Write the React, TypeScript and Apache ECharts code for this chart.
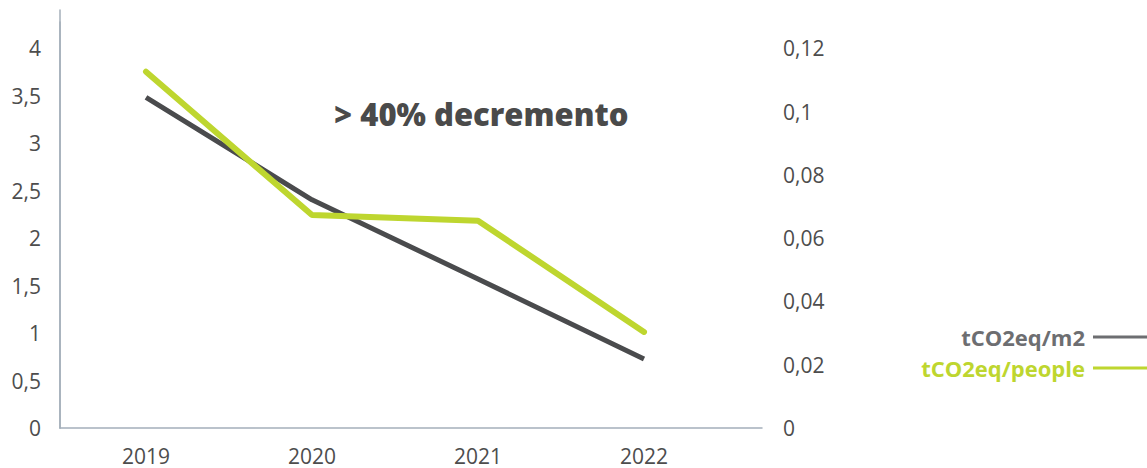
import React, { useEffect, useRef } from "react";
import * as echarts from "echarts";

const years = ["2019", "2020", "2021", "2022"];
const perPeople = [3.754, 2.244, 2.184, 1.012];
const perM2 = [0.1045, 0.0721, 0.0471, 0.0218];
const seriesNames = ["tCO2eq/m2", "tCO2eq/people"];
const annotation = "> 40% decremento";

const GRAY = "#4a4b4d";
const GREEN = "#bed62f";
const AXIS = "#a4afba";
const LABEL = "#4d4d4d";

const fmt = (v: number) => String(v).replace(".", ",");

export default function App() {
  const ref = useRef<HTMLDivElement>(null);
  useEffect(() => {
    if (!ref.current) return;
    const chart = echarts.init(ref.current, undefined, { renderer: "svg" });
    const labelBase = {
      color: LABEL,
      fontFamily: "Open Sans",
      fontSize: 21,
    };
    chart.setOption({
      animation: false,
      backgroundColor: "#ffffff",
      title: {
        text: annotation,
        left: 329,
        top: 93,
        textStyle: { fontFamily: "Open Sans", fontWeight: 800, fontSize: 31, color: "#4a4a4a" },
      },
      legend: {
        orient: "vertical",
        right: -6,
        top: 318,
        align: "right",
        itemWidth: 55,
        itemHeight: 3,
        itemGap: 3,
        data: [
          { name: seriesNames[0], icon: "rect", itemStyle: { color: "#6d6e71" }, textStyle: { color: "#6d6e71" } },
          { name: seriesNames[1], icon: "rect", itemStyle: { color: GREEN }, textStyle: { color: GREEN } },
        ],
        textStyle: {
          fontFamily: "Open Sans",
          fontWeight: "bold",
          fontSize: 22,
          lineHeight: 28,
          padding: [0, 3, 0, 0],
        },
      },
      grid: [
        { left: 63, right: 420, top: 22, bottom: 40 },
        { left: 60, right: 385, top: 10, bottom: 40 },
      ],
      xAxis: [
        {
          type: "category",
          gridIndex: 0,
          data: years,
          boundaryGap: true,
          axisLine: { show: false },
          axisTick: { show: false },
          axisLabel: { ...labelBase, margin: 17 },
        },
        {
          type: "value",
          gridIndex: 1,
          min: 0,
          max: 1,
          axisLine: { show: true, onZero: false, lineStyle: { color: AXIS, width: 1.5 } },
          axisTick: { show: false },
          axisLabel: { show: false },
          splitLine: { show: false },
        },
      ],
      yAxis: [
        {
          type: "value",
          gridIndex: 0,
          position: "left",
          offset: 3,
          min: 0,
          max: 4.278,
          interval: 0.5,
          axisLine: { show: true, lineStyle: { color: AXIS, width: 1.5 } },
          axisTick: { show: false },
          splitLine: { show: false },
          axisLabel: {
            ...labelBase,
            margin: 19,
            padding: [0, 0, 5, 0],
            showMaxLabel: false,
            formatter: (v: number) => fmt(v),
          },
        },
        {
          type: "value",
          gridIndex: 0,
          position: "right",
          offset: 35,
          min: 0,
          max: 0.1283,
          interval: 0.02,
          axisLine: { show: false },
          axisTick: { show: false },
          splitLine: { show: false },
          axisLabel: {
            ...labelBase,
            margin: 21,
            padding: [0, 0, 5, 0],
            showMaxLabel: false,
            formatter: (v: number) => fmt(Math.round(v * 100) / 100),
          },
        },
        {
          type: "value",
          gridIndex: 1,
          position: "right",
          min: 0,
          max: 1,
          axisLine: { show: true, lineStyle: { color: AXIS, width: 1.5 } },
          axisTick: { show: false },
          axisLabel: { show: false },
          splitLine: { show: false },
        },
      ],
      series: [
        {
          name: seriesNames[0],
          type: "line",
          xAxisIndex: 0,
          yAxisIndex: 1,
          data: perM2,
          symbol: "none",
          lineStyle: { color: GRAY, width: 5, cap: "butt" },
          itemStyle: { color: GRAY },
        },
        {
          name: seriesNames[1],
          type: "line",
          xAxisIndex: 0,
          yAxisIndex: 0,
          data: perPeople,
          symbol: "none",
          lineStyle: { color: GREEN, width: 6, cap: "round" },
          itemStyle: { color: GREEN },
        },
      ],
    });
    return () => chart.dispose();
  }, []);
  return <div ref={ref} style={{ width: 1147, height: 468, position: "absolute", left: 0, top: 0 }} />;
}
